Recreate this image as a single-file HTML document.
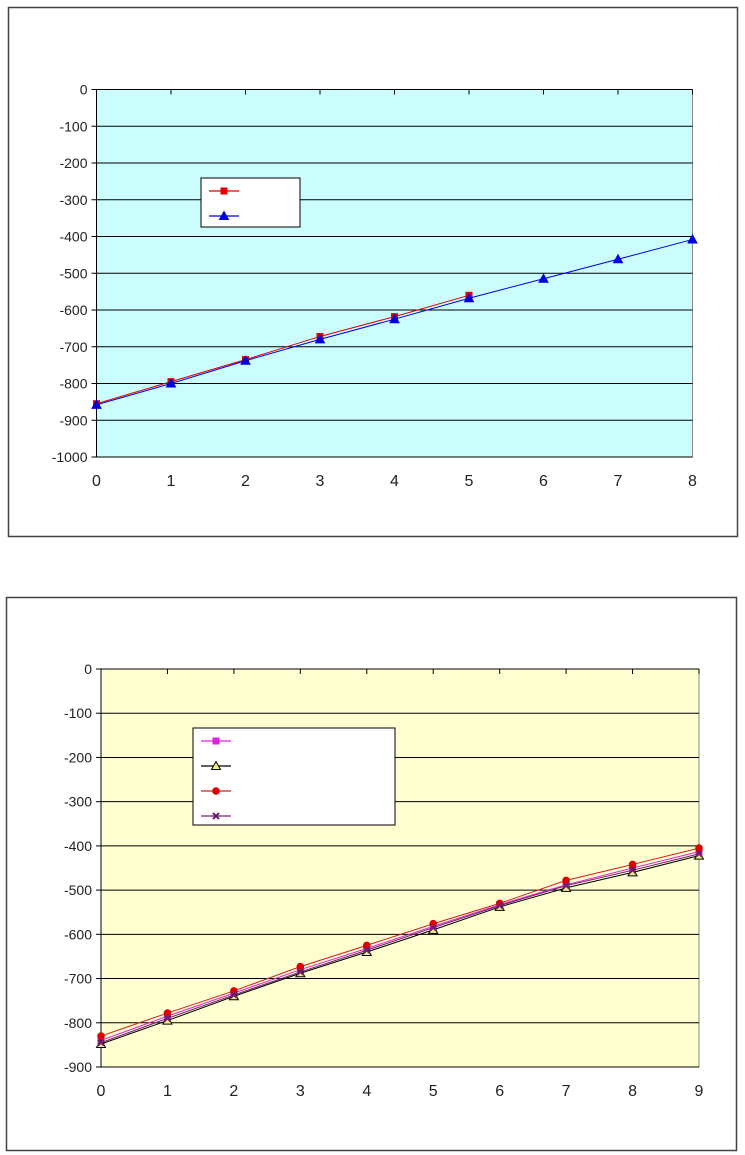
<!DOCTYPE html>
<html><head><meta charset="utf-8"><style>
html,body{margin:0;padding:0;background:#fff;}
svg{display:block;font-family:"Liberation Sans",sans-serif;}
</style></head><body>
<svg id="s" width="745" height="1155" xmlns="http://www.w3.org/2000/svg">
<rect x="8.5" y="7.5" width="729" height="529" fill="#fff" stroke="#444" stroke-width="1.5"/>
<rect x="6.5" y="597.5" width="730" height="553" fill="#fff" stroke="#444" stroke-width="1.5"/>
<g id="g"></g>
</svg>
<script>
var g=document.getElementById('g'),h='';
function chart(L,T,R,B,ymin,nx,bg,series,legend){
  h+='<rect x="'+L+'" y="'+T+'" width="'+(R-L)+'" height="'+(B-T)+'" fill="'+bg+'" stroke="#888"/>';
  var ny=-ymin/100;
  for(var i=0;i<=ny;i++){var y=T+(B-T)*i/ny;
    if(i>0)h+='<line x1="'+L+'" x2="'+R+'" y1="'+y+'" y2="'+y+'" stroke="#000" stroke-width="1"/>';
    h+='<line x1="'+(L-5)+'" x2="'+L+'" y1="'+y+'" y2="'+y+'" stroke="#000"/>';
    h+='<text x="'+(L-9)+'" y="'+(y+5)+'" font-size="14" text-anchor="end" fill="#222">'+(i==0?'0':'-'+(i*100))+'</text>';}
  h+='<line x1="'+L+'" x2="'+L+'" y1="'+T+'" y2="'+B+'" stroke="#000"/>';
  h+='<line x1="'+L+'" x2="'+R+'" y1="'+T+'" y2="'+T+'" stroke="#000"/>';
  for(var i=0;i<=nx;i++){var x=L+(R-L)*i/nx;
    h+='<line x1="'+x+'" x2="'+x+'" y1="'+T+'" y2="'+(T+5)+'" stroke="#000"/>';
    h+='<text x="'+x+'" y="'+(B+29)+'" font-size="16" text-anchor="middle" fill="#222">'+i+'</text>';}
  function X(i){return L+(R-L)*i/nx;} function Y(v){return T+(B-T)*v/ymin;}
  series.forEach(function(s){
    var p=s.d.map(function(v,i){return X(i)+','+Y(v);}).join(' ');
    h+='<polyline points="'+p+'" fill="none" stroke="'+s.c+'" stroke-width="1"/>';
    s.d.forEach(function(v,i){h+=mk(s.m,X(i),Y(v),s);});
  });
  h+='<rect x="'+legend[0]+'" y="'+legend[1]+'" width="'+legend[2]+'" height="'+legend[3]+'" fill="#fff" stroke="#000"/>';
  series.forEach(function(s,k){var y=legend[1]+legend[4]+k*legend[5],x=legend[0]+8;
    h+='<line x1="'+x+'" x2="'+(x+30)+'" y1="'+y+'" y2="'+y+'" stroke="'+s.c+'" stroke-width="1.2"/>'+mk(s.m,x+15,y,s);});
}
function mk(m,x,y,s){
  if(m=='sq')return '<rect x="'+(x-3.5)+'" y="'+(y-3.5)+'" width="7" height="7" fill="'+s.f+'"/>';
  if(m=='tri')return '<polygon points="'+x+','+(y-4.5)+' '+(x+4.5)+','+(y+3.5)+' '+(x-4.5)+','+(y+3.5)+'" fill="'+s.f+'" stroke="'+(s.st||s.f)+'"/>';
  if(m=='ci')return '<circle cx="'+x+'" cy="'+y+'" r="3.8" fill="'+s.f+'"/>';
  if(m=='x')return '<path d="M'+(x-3)+','+(y-3)+'L'+(x+3)+','+(y+3)+'M'+(x+3)+','+(y-3)+'L'+(x-3)+','+(y+3)+'" stroke="'+s.f+'" stroke-width="2"/>';
}
chart(96.5,89.5,692.5,457,-1000,8,'#ccfdfd',[
 {c:'#e00000',f:'#e00000',m:'sq',d:[-855,-795,-735,-672,-618,-560]},
 {c:'#0000e0',f:'#0000e0',m:'tri',d:[-858,-800,-738,-680,-625,-568,-515,-462,-408]}
],[201,178,99,49,13,25]);
chart(101,669,699,1067,-900,9,'#fefed0',[
 {c:'#e020e0',f:'#e020e0',m:'sq',d:[-840,-785,-733,-680,-632,-582,-533,-488,-450,-413]},
 {c:'#000',f:'#f0f080',st:'#000',m:'tri',d:[-848,-795,-740,-688,-640,-590,-538,-495,-460,-422]},
 {c:'#d02020',f:'#e00000',m:'ci',d:[-830,-778,-728,-673,-625,-576,-530,-478,-442,-405]},
 {c:'#702070',f:'#702070',m:'x',d:[-845,-790,-737,-685,-636,-585,-535,-490,-455,-418]}
],[193,728,202,97,13,25]);
g.innerHTML=h;
</script>
</body></html>
